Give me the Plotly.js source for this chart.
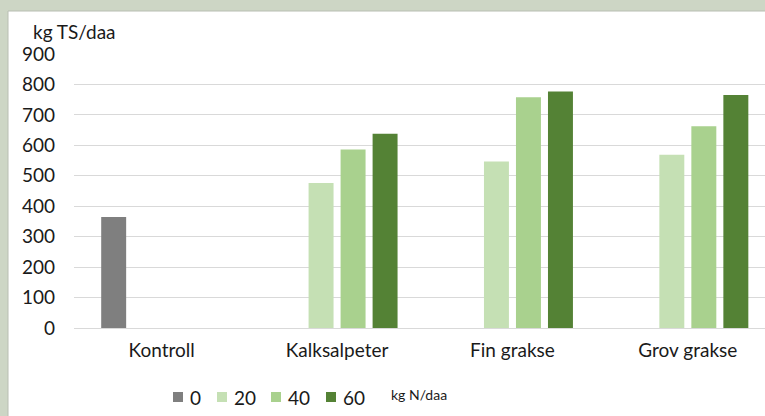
<!DOCTYPE html>
<html>
<head>
<meta charset="utf-8">
<script src="https://cdn.plot.ly/plotly-3.0.1.min.js"></script>
<style>html,body{margin:0;padding:0;background:#cdd6c5;}#chart{width:765px;height:416px;}</style>
</head>
<body>
<div id="chart"></div>
<script>
var categories = ['Kontroll', 'Kalksalpeter', 'Fin grakse', 'Grov grakse'];
var seriesNames = ['0', '20', '40', '60'];
var values0  = [365, null, null, null];
var values20 = [null, 476, 547, 569];
var values40 = [null, 586, 758, 663];
var values60 = [null, 638, 777, 765];
var colors = ['#7f7f7f', '#c5e0b4', '#a9d18e', '#548235'];
var yTicks = [0, 100, 200, 300, 400, 500, 600, 700, 800, 900];
var yTitle = 'kg TS/daa';
var legendUnit = 'kg N/daa';

var allValues = [values0, values20, values40, values60];
var FONT = 'Lato, Carlito, "Open Sans", sans-serif';
var TXT = '#1a1a1a';

// plot geometry (pixels)
var W = 765, H = 416, ML = 74, MT = 54, MB = 88;
var PW = W - ML, PH = H - MT - MB;
function px2x(p) { return (p - ML) / PW; }
function py2y(p) { return (H - MB - p) / PH; }

var traces = allValues.map(function (vals, i) {
  return {
    type: 'bar',
    name: seriesNames[i],
    x: categories,
    y: vals,
    marker: {color: colors[i]},
    hoverinfo: 'skip',
    showlegend: false
  };
});

// manual legend (square swatch + label), positions in pixels
var legendSwatchX = [173, 217, 271, 326];
var shapes = [{
  type: 'rect',
  xref: 'paper', yref: 'paper',
  x0: px2x(8), x1: 1.2,
  y0: -0.6, y1: py2y(11),
  fillcolor: '#ffffff',
  line: {color: '#b8beb2', width: 1},
  layer: 'below'
}];
var annotations = [{
  text: yTitle,
  xref: 'paper', yref: 'paper',
  x: px2x(31), xanchor: 'left',
  y: py2y(31), yanchor: 'middle',
  showarrow: false,
  font: {family: FONT, size: 19, color: TXT}
}, {
  text: legendUnit,
  xref: 'paper', yref: 'paper',
  x: px2x(389), xanchor: 'left',
  y: py2y(394), yanchor: 'middle',
  showarrow: false,
  font: {family: FONT, size: 14, color: TXT}
}];
seriesNames.forEach(function (name, i) {
  var sx = legendSwatchX[i];
  shapes.push({
    type: 'rect', xref: 'paper', yref: 'paper',
    x0: px2x(sx), x1: px2x(sx + 10),
    y0: py2y(402), y1: py2y(392),
    fillcolor: colors[i], line: {width: 0}
  });
  annotations.push({
    text: name, xref: 'paper', yref: 'paper',
    x: px2x(sx + 15), xanchor: 'left',
    y: py2y(397), yanchor: 'middle',
    showarrow: false,
    font: {family: FONT, size: 19, color: TXT}
  });
});

var layout = {
  width: W,
  height: H,
  paper_bgcolor: '#cdd6c5',
  plot_bgcolor: 'rgba(0,0,0,0)',
  margin: {l: ML, r: 0, t: MT, b: MB},
  barmode: 'group',
  bargap: 0.27,
  bargroupgap: 0.22,
  font: {family: FONT, size: 19, color: TXT},
  showlegend: false,
  xaxis: {
    type: 'category',
    range: [-0.5, 3.44],
    showgrid: false,
    zeroline: false,
    showline: false,
    ticks: '',
    ticklabelstandoff: 9,
    tickfont: {family: FONT, size: 19, color: TXT},
    fixedrange: true
  },
  yaxis: {
    range: [0, 900],
    tickvals: yTicks,
    ticktext: yTicks.map(String),
    showgrid: true,
    gridcolor: '#d9d9d9',
    gridwidth: 1,
    zeroline: true,
    zerolinecolor: '#d9d9d9',
    zerolinewidth: 1,
    showline: false,
    ticks: '',
    ticklabelstandoff: 18,
    tickfont: {family: FONT, size: 19, color: TXT},
    fixedrange: true
  },
  shapes: shapes,
  annotations: annotations
};

Plotly.newPlot('chart', traces, layout, {displayModeBar: false, staticPlot: true});
</script>
</body>
</html>
